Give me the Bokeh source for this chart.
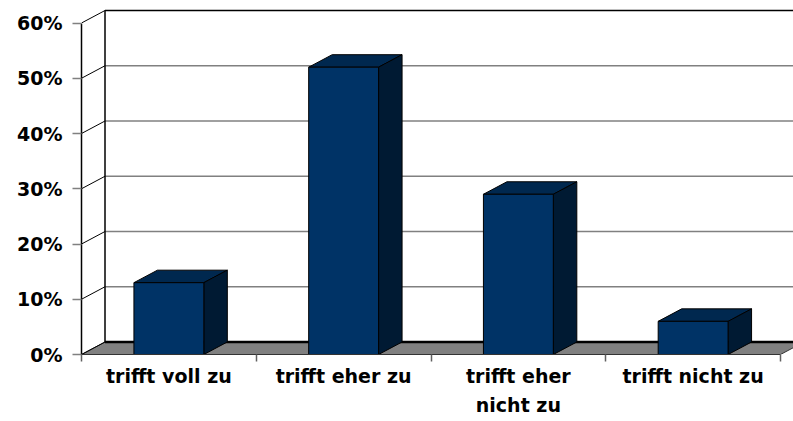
from bokeh.plotting import figure
from bokeh.models import Range1d, FixedTicker
from bokeh.embed import file_html
from bokeh.resources import INLINE

# ---- data ----
categories = ["trifft voll zu", "trifft eher zu", "trifft eher\nnicht zu", "trifft nicht zu"]
values = [13, 52, 29, 6]
y_ticks = [0, 10, 20, 30, 40, 50, 60]
y_tick_labels = ["0%", "10%", "20%", "30%", "40%", "50%", "60%"]

# ---- geometry ----
W, H = 793, 421
LEFT = 81
BOTTOM = 67
frame_w = W - LEFT
frame_h = H - BOTTOM
px_per_pct = (354 - 22.5) / 60.0
px_per_cat = 174.75
y_max = frame_h / px_per_pct
x_max = frame_w / px_per_cat
DX = 23.5 / px_per_cat
DY = 12.5 / px_per_pct
BAR_W = 0.4
n = len(categories)
centers = [i + 0.5 for i in range(n)]

p = figure(width=W, height=H, x_range=Range1d(0, x_max), y_range=Range1d(0, y_max),
           output_backend="svg", toolbar_location=None,
           min_border_left=LEFT, min_border_bottom=BOTTOM, min_border_top=0, min_border_right=0)
p.grid.visible = False
p.outline_line_color = None
p.background_fill_color = "white"
p.border_fill_color = "white"

FONT = "DejaVu Sans"

# y axis (front)
ya = p.yaxis[0]
ya.ticker = FixedTicker(ticks=y_ticks, minor_ticks=[])
ya.major_label_overrides = {t: l for t, l in zip(y_ticks, y_tick_labels)}
ya.bounds = (0, 60)
ya.axis_line_color = "black"
ya.axis_line_width = 1.5
ya.major_tick_out = 9
ya.major_tick_in = 0
ya.major_tick_line_color = "#808080"
ya.major_tick_line_width = 1.5
ya.minor_tick_line_color = None
ya.major_label_standoff = 10
ya.major_label_text_font = FONT
ya.major_label_text_font_style = "bold"
ya.major_label_text_font_size = "19px"
ya.major_label_text_color = "black"

# x axis (front floor edge)
xa = p.xaxis[0]
xa.ticker = FixedTicker(ticks=centers, minor_ticks=[float(i) for i in range(n + 1)])
xa.major_label_overrides = {c: l for c, l in zip(centers, categories)}
xa.bounds = (0, n)
xa.axis_line_color = "#333333"
xa.axis_line_width = 1
xa.major_tick_line_color = None
xa.major_tick_out = 0
xa.major_tick_in = 0
xa.minor_tick_out = 7
xa.minor_tick_in = 0
xa.minor_tick_line_color = "#606060"
xa.minor_tick_line_width = 1.5
xa.major_label_standoff = 3
xa.major_label_text_font = FONT
xa.major_label_text_font_style = "bold"
xa.major_label_text_font_size = "19px"
xa.major_label_text_color = "black"
xa.major_label_text_line_height = 1.35

# floor
p.patch(x=[0, n, n + DX, DX], y=[0, 0, DY, DY], fill_color="#808080",
        line_color="#333333", line_width=1)

# back wall gridlines
grid_mid = y_ticks[1:-1]
p.segment(x0=[DX] * len(grid_mid), y0=[g + DY for g in grid_mid],
          x1=[x_max + 1] * len(grid_mid), y1=[g + DY for g in grid_mid],
          line_color="#808080", line_width=1.5)
# top and bottom back edges
p.segment(x0=[DX], y0=[y_ticks[-1] + DY], x1=[x_max + 1], y1=[y_ticks[-1] + DY],
          line_color="black", line_width=1.5)
p.segment(x0=[DX], y0=[DY], x1=[x_max + 1], y1=[DY], line_color="black", line_width=2.5)
# back wall left vertical edge
p.segment(x0=[DX], y0=[DY], x1=[DX], y1=[y_ticks[-1] + DY], line_color="black", line_width=1.5)
# side wall diagonals
p.segment(x0=[0] * len(y_ticks), y0=y_ticks, x1=[DX] * len(y_ticks),
          y1=[g + DY for g in y_ticks], line_color="black", line_width=1)

# bars: top and side faces
top_xs, top_ys, side_xs, side_ys = [], [], [], []
for c, v in zip(centers, values):
    l, r = c - BAR_W / 2, c + BAR_W / 2
    top_xs.append([l, r, r + DX, l + DX])
    top_ys.append([v, v, v + DY, v + DY])
    side_xs.append([r, r + DX, r + DX, r])
    side_ys.append([0, DY, v + DY, v])
p.patches(xs=top_xs, ys=top_ys, fill_color="#00284f", line_color="black", line_width=1)
p.patches(xs=side_xs, ys=side_ys, fill_color="#001a33", line_color="black", line_width=1)
p.quad(left=[c - BAR_W / 2 for c in centers], right=[c + BAR_W / 2 for c in centers],
       bottom=[0] * n, top=values, fill_color="#003366", line_color="black", line_width=1)

open("out.html", "w").write(file_html(p, INLINE))
